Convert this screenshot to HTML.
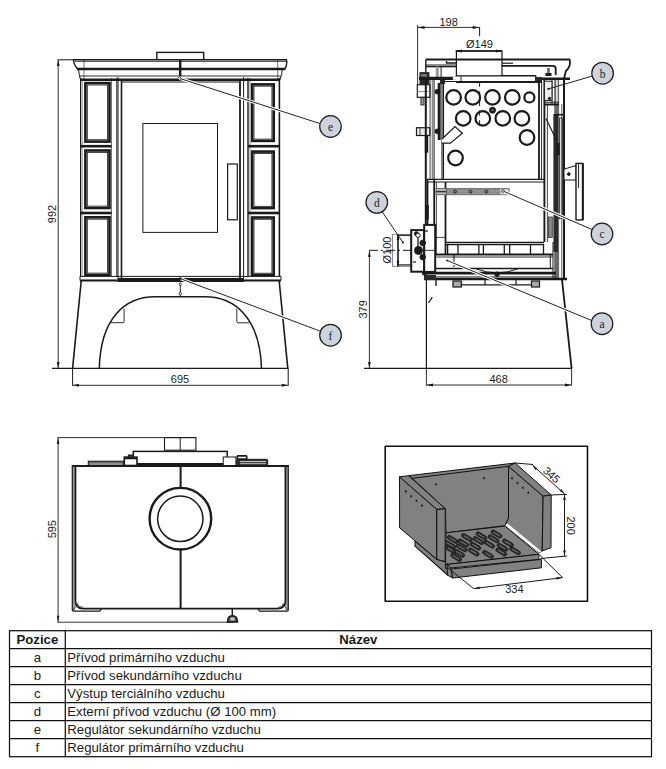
<!DOCTYPE html>
<html><head><meta charset="utf-8">
<style>
html,body{margin:0;padding:0;background:#fff;width:666px;height:769px;overflow:hidden}
svg{position:absolute;left:0;top:0}
text{font-family:"Liberation Sans",sans-serif;fill:#1a1a1a}
</style></head><body>
<svg width="666" height="769" viewBox="0 0 666 769">

<!-- FRONT VIEW -->
<g id="front" stroke="#1a1a1a" fill="none" stroke-width="1">
<!-- flue -->
<rect x="156.8" y="52.4" width="46.9" height="7.3" stroke-width="1.4"/>
<!-- cornice -->
<path d="M73.5 59.8 L286.5 59.8 Q287.5 64 285 69 L77.5 69 Q73.5 64 73.5 59.8 Z" fill="#fff" stroke-width="1.4"/>
<line x1="75" y1="61.4" x2="286" y2="61.4" stroke-width="0.8"/>
<line x1="77" y1="69" x2="285" y2="69" stroke-width="2.4"/>
<path d="M78.5 69 Q79 75 80.5 79.8 M282.3 69 Q282 75 280 79.8" stroke-width="1"/>
<line x1="79.5" y1="76" x2="281" y2="76" stroke-width="0.9"/>
<line x1="180.2" y1="59.8" x2="180.2" y2="76" stroke-width="2.4"/>
<line x1="84" y1="60" x2="84" y2="79" stroke-width="0.6"/>
<line x1="277.7" y1="60" x2="277.7" y2="79" stroke-width="0.6"/>
<!-- tops -->
<line x1="80.5" y1="79.8" x2="280" y2="79.8" stroke-width="2.4"/>
<!-- left pillar -->
<line x1="80.5" y1="78" x2="80.5" y2="276.5" stroke-width="1"/>
<line x1="82" y1="78" x2="82" y2="276.5" stroke-width="0.6"/>
<line x1="111.5" y1="78" x2="111.5" y2="276.5" stroke-width="0.6"/>
<line x1="116.8" y1="78" x2="116.8" y2="276.5" stroke-width="1"/>
<rect x="85.4" y="83.1" width="24.1" height="58.5" stroke-width="2.6"/>
<rect x="87.3" y="85.0" width="20.3" height="54.7" stroke-width="0.8"/>
<line x1="81" y1="146.2" x2="111.5" y2="146.2" stroke-width="2.6"/>
<rect x="85.4" y="150.5" width="24.1" height="57.5" stroke-width="2.6"/>
<rect x="87.3" y="152.4" width="20.3" height="53.7" stroke-width="0.8"/>
<line x1="81" y1="213" x2="111.5" y2="213" stroke-width="2.6"/>
<rect x="85.4" y="217.3" width="24.1" height="57.7" stroke-width="2.6"/>
<rect x="87.3" y="219.2" width="20.3" height="53.9" stroke-width="0.8"/>
<!-- right pillar -->
<line x1="279.4" y1="78" x2="279.4" y2="276.5" stroke-width="1.6"/>
<line x1="248" y1="78" x2="248" y2="276.5" stroke-width="1.4"/>
<line x1="250" y1="78" x2="250" y2="276.5" stroke-width="0.5"/>
<rect x="252.2" y="84.4" width="21.5" height="56.5" stroke-width="2.6"/>
<rect x="254.0" y="86.2" width="17.9" height="52.9" stroke-width="0.8"/>
<line x1="248" y1="146.2" x2="280" y2="146.2" stroke-width="2.6"/>
<rect x="252.2" y="151.6" width="21.5" height="56.5" stroke-width="2.6"/>
<rect x="254.0" y="153.4" width="17.9" height="52.9" stroke-width="0.8"/>
<line x1="248" y1="213" x2="280" y2="213" stroke-width="2.6"/>
<rect x="252.2" y="217.5" width="21.5" height="57.5" stroke-width="2.6"/>
<rect x="254.0" y="219.3" width="17.9" height="53.9" stroke-width="0.8"/>
<!-- door -->
<line x1="121.5" y1="82" x2="240" y2="82" stroke-width="1"/>
<line x1="118" y1="77.2" x2="118" y2="281.5" stroke-width="1"/>
<line x1="121.5" y1="80.5" x2="121.5" y2="279" stroke-width="1.6"/>
<line x1="240" y1="80.5" x2="240" y2="279" stroke-width="1.8"/>
<line x1="243.6" y1="77.2" x2="243.6" y2="281.5" stroke-width="1"/>
<rect x="142.9" y="123.5" width="74.6" height="108.9" stroke-width="1"/>
<rect x="227.6" y="164" width="9.7" height="55.8" stroke-width="1.2"/>
<!-- ledge -->
<path d="M80 276.4 L281 276.4 L281 280.4 L80 280.4 Z" stroke-width="1"/>
<line x1="80" y1="280.4" x2="281" y2="280.4" stroke-width="2"/>
<line x1="118" y1="279" x2="243.6" y2="279" stroke-width="1.8"/>
<line x1="118" y1="281.5" x2="243.6" y2="281.5" stroke-width="1"/>
<!-- base -->
<path d="M81.2 281 L72.6 368.4 M279.2 281 L287.8 368.4" stroke-width="1.6"/>
<line x1="52" y1="368.4" x2="288" y2="368.4" stroke-width="1.1"/>
<path d="M99.3 368.4 C100.5 318 125 296.8 155 296.8 L205 296.8 C235 296.8 260 318 261.5 368.4" stroke-width="1.5"/>
<path d="M124.1 308.6 L124.1 321.5 Q124.1 322.7 122.9 322.7 L110.8 322.7" stroke-width="0.9"/>
<path d="M236.8 309 L236.8 321.6 Q236.8 322.8 238 322.8 L249 322.8" stroke-width="0.9"/>
<line x1="180.3" y1="282.6" x2="180.3" y2="296" stroke-width="1"/>
<circle cx="180.3" cy="284.4" r="1.2" fill="#fff" stroke-width="0.8"/>
<circle cx="180.3" cy="293.6" r="1.3" fill="#fff" stroke-width="0.8"/>
<!-- dim 992 -->
<line x1="58.2" y1="60" x2="58.2" y2="368.4" stroke-width="0.9"/>
<line x1="57.5" y1="59.8" x2="73.5" y2="59.8" stroke-width="1"/>
<path d="M58.2 60 L56.8 66 L59.6 66 Z" fill="#1a1a1a" stroke="none"/>
<path d="M58.2 368.2 L56.8 362 L59.6 362 Z" fill="#1a1a1a" stroke="none"/>
<!-- dim 695 -->
<line x1="72.6" y1="385.3" x2="288.2" y2="385.3" stroke-width="0.9"/>
<line x1="72.6" y1="368" x2="72.6" y2="385.8" stroke-width="1"/>
<line x1="288.2" y1="368" x2="288.2" y2="385.8" stroke-width="1"/>
<path d="M72.8 385.3 L79 383.8 L79 386.8 Z M288 385.3 L281.8 383.8 L281.8 386.8 Z" fill="#1a1a1a" stroke="none"/>
</g>
<text x="180" y="383" font-size="11" text-anchor="middle">695</text>
<text transform="translate(56,214) rotate(-90)" font-size="11" text-anchor="middle">992</text>


<!-- leaders front -->
<g stroke="#fff" stroke-width="3" fill="none">
<line x1="180" y1="78.5" x2="319.8" y2="123.5"/>
<line x1="180.3" y1="278.6" x2="319.8" y2="331"/>
</g>
<g stroke="#222" stroke-width="1" fill="none">
<line x1="180" y1="78.5" x2="319.8" y2="123.5"/>
<line x1="180.3" y1="278.6" x2="319.8" y2="331"/>
</g>
<circle cx="179.5" cy="78.6" r="1.5" fill="#fff" stroke="#222" stroke-width="0.8"/>
<circle cx="180.3" cy="278.6" r="1.3" fill="#222"/>
<g stroke="#1e1e1e" stroke-width="1.25" fill="#cdd3dc">
<circle cx="330.5" cy="126.5" r="10.8"/>
<circle cx="330.5" cy="335.2" r="10.8"/>
</g>
<g font-family="Liberation Serif" font-size="11.5" fill="#2a2e36" text-anchor="middle">
<text x="330.5" y="130.5" style="font-family:'Liberation Serif',serif">e</text>
<text x="330.5" y="339.5" style="font-family:'Liberation Serif',serif">f</text>
</g>


<!-- TOP VIEW -->
<g id="topview" stroke="#1a1a1a" fill="none" stroke-width="1">
<line x1="57.6" y1="437.6" x2="196" y2="437.6" stroke-width="0.9"/>
<line x1="57.6" y1="622.2" x2="233" y2="622.2" stroke-width="0.9"/>
<line x1="58.1" y1="437.6" x2="58.1" y2="622.2" stroke-width="0.9"/>
<path d="M58.1 437.8 L56.8 444 L59.4 444 Z M58.1 622 L56.8 615.8 L59.4 615.8 Z" fill="#1a1a1a" stroke="none"/>
<rect x="164.5" y="437.6" width="31.4" height="12.6" stroke-width="1.1"/>
<line x1="180.2" y1="437.6" x2="180.2" y2="450.2" stroke-width="1"/>
<rect x="133.3" y="451.4" width="93.9" height="13.6" stroke-width="1.5"/>
<line x1="133" y1="464" x2="227" y2="464" stroke-width="2"/>
<rect x="88.3" y="461.2" width="35.5" height="4.3" stroke-width="1" fill="#666"/>
<line x1="89.5" y1="464" x2="122.5" y2="464" stroke="#d0d0d0" stroke-width="0.8"/>
<rect x="124.3" y="457.1" width="12.7" height="8.4" stroke-width="1.6" fill="#fff"/>
<line x1="124.3" y1="458.4" x2="137" y2="458.4" stroke-width="1.8"/>
<rect x="128.4" y="455" width="4.9" height="2.6" stroke-width="1" fill="#333"/>
<rect x="223.2" y="457" width="12.7" height="9" stroke-width="1" fill="#fff"/>
<rect x="236.6" y="459.3" width="31.1" height="5.8" rx="1" stroke-width="1" fill="#333"/>
<line x1="240" y1="461.6" x2="266" y2="461.6" stroke="#e0e0e0" stroke-width="0.9"/>
<line x1="240" y1="463.7" x2="266" y2="463.7" stroke="#e0e0e0" stroke-width="0.8"/>
<rect x="237.2" y="455.9" width="9.6" height="3.2" rx="0.8" stroke-width="1.6" fill="#fff"/>
<rect x="72.6" y="466" width="2.6" height="144.6" fill="#9a9a9a" stroke="none"/>
<rect x="285.6" y="466" width="2.4" height="144.6" fill="#9a9a9a" stroke="none"/>
<line x1="72.3" y1="466" x2="288.3" y2="466" stroke-width="2"/>
<path d="M72.3 465 L72.3 610 Q72.3 611.2 73.5 611.2 L99.8 611.2 L101.5 608.6" stroke-width="1.2"/>
<path d="M288.3 465 L288.3 610 Q288.3 611.2 287.1 611.2 L259.5 611.2 L258 608.6" stroke-width="1.2"/>
<path d="M75.5 466 L75.5 601 Q75.5 608.6 83 608.6 L277.5 608.6 Q285.4 608.6 285.4 601 L285.4 466" stroke-width="1.7"/>
<path d="M73 610 L78.5 603.5 M287.6 610 L282 603.5" stroke-width="0.7"/>
<path d="M76.5 603 Q78 607 83 607.5 M284.4 603 Q283 607 278 607.5" stroke-width="0.7"/>
<line x1="180.6" y1="466" x2="180.6" y2="609" stroke-width="2"/>
<circle cx="180.4" cy="518.7" r="30.8" stroke-width="2.4" fill="#fff"/>
<circle cx="180.3" cy="518.8" r="22.7" stroke-width="1.5"/>
<line x1="232.3" y1="609" x2="232.3" y2="617" stroke-width="1.4"/>
<path d="M227.5 622 Q227.5 616 232.3 615.8 Q237.5 616 237.5 622 Z" stroke-width="1.4" fill="#555"/>
<rect x="230.5" y="617.5" width="4" height="3" fill="#ccc" stroke="none"/>
</g>
<text transform="translate(56,529.2) rotate(-90)" font-size="11" text-anchor="middle">595</text>


<!-- GRATE BOX -->
<g id="grate" stroke="#111" stroke-width="1" stroke-linejoin="round">
<rect x="385.2" y="446.3" width="202.3" height="155" fill="none" stroke-width="1.6"/>
<!-- under base left -->
<path d="M415 540.8 L436.8 559.3 L445.1 561.6 L448.2 568 L448.2 575.5 L415 546.1 Z" fill="#818181" stroke-width="1.1"/>
<!-- back wall -->
<path d="M408.5 475.7 L515.1 463 L508.5 466.3 L508.5 518 L505 525.6 L446 532.8 L445.3 508.8 L412.3 478.3 Z" fill="#818181"/>
<line x1="412.3" y1="478.3" x2="508.5" y2="466.3"/>
<!-- left wall outer face -->
<path d="M399.5 476.8 L436.8 509.4 L436.8 559.3 L399.6 527.8 Z" fill="#818181"/>
<path d="M399.5 476.8 L408.5 475.7 L445.3 508.8 L436.8 509.4 Z" fill="#818181"/>
<path d="M436.8 509.4 L445.3 508.8 L445.1 561.6 L436.8 559.3 Z" fill="#818181"/>
<!-- right wall -->
<path d="M508.5 466.3 L543.1 496.2 L542.2 551 L538.9 552.6 L505 525.6 L508.5 518 Z" fill="#818181"/>
<path d="M515.1 463 L551.2 495 L543.1 496.2 L508.5 466.3 Z" fill="#818181"/>
<path d="M543.1 496.2 L551.2 495 L551 547.6 L542.2 551 Z" fill="#818181"/>
<path d="M505 525.6 L538.9 552.6 L541.5 551.5 L507.5 523.5 Z" fill="#fff" stroke="none"/>
<!-- grate -->
<path d="M446 532.8 L505 526.1 L538.9 554.3 L445.4 564.6 Z" fill="#818181"/>
<path d="M445.4 564.6 L538.9 554.3 L538.9 559.4 L445.4 568.5 Z" fill="#818181"/>
<!-- ash tray -->
<path d="M451 569 L541.4 559.4 L541.4 567.8 L452.6 578 Z" fill="#818181"/>
<path d="M447.3 563.5 L451 569 L452.6 578 L447.3 575 Z" fill="#818181"/>
</g>
<defs><clipPath id="gclip"><path d="M446 533 L505 526 L539 554.5 L446 564.5 Z"/></clipPath></defs><g clip-path="url(#gclip)" fill="#2e2e2e" stroke="#151515" stroke-width="0.7"><g transform="translate(452.6,539.4) rotate(31)"><rect x="-6" y="-2" width="12" height="4" rx="2"/><line x1="-3.5" y1="0" x2="3.5" y2="0" stroke="#707070" stroke-width="1.1"/></g><g transform="translate(467.0,537.6) rotate(31)"><rect x="-6" y="-2" width="12" height="4" rx="2"/><line x1="-3.5" y1="0" x2="3.5" y2="0" stroke="#707070" stroke-width="1.1"/></g><g transform="translate(481.4,535.8) rotate(31)"><rect x="-6" y="-2" width="12" height="4" rx="2"/><line x1="-3.5" y1="0" x2="3.5" y2="0" stroke="#707070" stroke-width="1.1"/></g><g transform="translate(496.5,534.0) rotate(31)"><rect x="-6" y="-2" width="12" height="4" rx="2"/><line x1="-3.5" y1="0" x2="3.5" y2="0" stroke="#707070" stroke-width="1.1"/></g><g transform="translate(463.4,543.0) rotate(31)"><rect x="-6" y="-2" width="12" height="4" rx="2"/><line x1="-3.5" y1="0" x2="3.5" y2="0" stroke="#707070" stroke-width="1.1"/></g><g transform="translate(478.4,540.6) rotate(31)"><rect x="-6" y="-2" width="12" height="4" rx="2"/><line x1="-3.5" y1="0" x2="3.5" y2="0" stroke="#707070" stroke-width="1.1"/></g><g transform="translate(493.5,538.8) rotate(31)"><rect x="-6" y="-2" width="12" height="4" rx="2"/><line x1="-3.5" y1="0" x2="3.5" y2="0" stroke="#707070" stroke-width="1.1"/></g><g transform="translate(507.9,543.0) rotate(31)"><rect x="-6" y="-2" width="12" height="4" rx="2"/><line x1="-3.5" y1="0" x2="3.5" y2="0" stroke="#707070" stroke-width="1.1"/></g><g transform="translate(450.2,544.8) rotate(31)"><rect x="-6" y="-2" width="12" height="4" rx="2"/><line x1="-3.5" y1="0" x2="3.5" y2="0" stroke="#707070" stroke-width="1.1"/></g><g transform="translate(461.6,547.8) rotate(31)"><rect x="-6" y="-2" width="12" height="4" rx="2"/><line x1="-3.5" y1="0" x2="3.5" y2="0" stroke="#707070" stroke-width="1.1"/></g><g transform="translate(475.4,546.0) rotate(31)"><rect x="-6" y="-2" width="12" height="4" rx="2"/><line x1="-3.5" y1="0" x2="3.5" y2="0" stroke="#707070" stroke-width="1.1"/></g><g transform="translate(489.2,544.2) rotate(31)"><rect x="-6" y="-2" width="12" height="4" rx="2"/><line x1="-3.5" y1="0" x2="3.5" y2="0" stroke="#707070" stroke-width="1.1"/></g><g transform="translate(502.5,547.2) rotate(31)"><rect x="-6" y="-2" width="12" height="4" rx="2"/><line x1="-3.5" y1="0" x2="3.5" y2="0" stroke="#707070" stroke-width="1.1"/></g><g transform="translate(515.1,550.8) rotate(31)"><rect x="-6" y="-2" width="12" height="4" rx="2"/><line x1="-3.5" y1="0" x2="3.5" y2="0" stroke="#707070" stroke-width="1.1"/></g><g transform="translate(450.8,549.6) rotate(31)"><rect x="-6" y="-2" width="12" height="4" rx="2"/><line x1="-3.5" y1="0" x2="3.5" y2="0" stroke="#707070" stroke-width="1.1"/></g><g transform="translate(459.2,553.2) rotate(31)"><rect x="-6" y="-2" width="12" height="4" rx="2"/><line x1="-3.5" y1="0" x2="3.5" y2="0" stroke="#707070" stroke-width="1.1"/></g><g transform="translate(473.6,552.0) rotate(31)"><rect x="-6" y="-2" width="12" height="4" rx="2"/><line x1="-3.5" y1="0" x2="3.5" y2="0" stroke="#707070" stroke-width="1.1"/></g><g transform="translate(488.0,554.4) rotate(31)"><rect x="-6" y="-2" width="12" height="4" rx="2"/><line x1="-3.5" y1="0" x2="3.5" y2="0" stroke="#707070" stroke-width="1.1"/></g><g transform="translate(456.2,557.4) rotate(31)"><rect x="-6" y="-2" width="12" height="4" rx="2"/><line x1="-3.5" y1="0" x2="3.5" y2="0" stroke="#707070" stroke-width="1.1"/></g><g transform="translate(501.3,552.0) rotate(31)"><rect x="-6" y="-2" width="12" height="4" rx="2"/><line x1="-3.5" y1="0" x2="3.5" y2="0" stroke="#707070" stroke-width="1.1"/></g></g>
<g fill="#222">
<ellipse cx="405.8" cy="491.4" rx="0.9" ry="1.3"/><ellipse cx="411.1" cy="496.3" rx="0.9" ry="1.3"/>
<ellipse cx="416.5" cy="500.8" rx="0.9" ry="1.3"/><ellipse cx="422" cy="505.6" rx="0.9" ry="1.3"/>
<circle cx="435.9" cy="484.3" r="1.1"/><circle cx="484" cy="478.2" r="1.1"/>
<ellipse cx="512.1" cy="478.2" rx="0.9" ry="1.3"/><ellipse cx="517.5" cy="482.9" rx="0.9" ry="1.3"/>
<ellipse cx="522.9" cy="487.7" rx="0.9" ry="1.3"/><ellipse cx="528.3" cy="492.8" rx="0.9" ry="1.3"/>
</g>
<g stroke="#1a1a1a" stroke-width="1" fill="none">
<line x1="515.1" y1="463" x2="533" y2="464.5"/>
<line x1="551.2" y1="495" x2="567" y2="494.4"/>
<line x1="532.3" y1="465" x2="564.7" y2="494"/>
<line x1="540.5" y1="558.5" x2="567" y2="556"/>
<line x1="564.5" y1="494.4" x2="564.5" y2="556"/>
<line x1="448" y1="568" x2="473.6" y2="588.6"/>
<line x1="538.9" y1="554.3" x2="562.5" y2="577.6"/>
<line x1="473.6" y1="588.6" x2="562.5" y2="577.6"/>
</g>
<path d="M564.5 494.6 L563.1 500 L565.9 500 Z M564.5 555.8 L563.1 550.4 L565.9 550.4 Z" fill="#222"/>
<path d="M473.8 588.6 L479.5 586.5 L479.8 589.3 Z M562.3 577.6 L556.4 576.9 L556.7 579.7 Z" fill="#222"/>
<path d="M532.5 465.2 L535.6 470.2 L537.4 468.2 Z M564.5 493.8 L559.5 491 L561.4 488.9 Z" fill="#222"/>
<text transform="translate(549,477.8) rotate(41.8)" font-size="11" text-anchor="middle">345</text>
<text transform="translate(567,525.6) rotate(90)" font-size="11" text-anchor="middle">200</text>
<text x="514.4" y="593" font-size="11" text-anchor="middle">334</text>


<!-- SIDE VIEW -->
<defs><pattern id="hatch" width="2" height="2" patternUnits="userSpaceOnUse" patternTransform="rotate(45)"><rect width="2" height="2" fill="#808080"/><rect width="1" height="1" fill="#b8b8b8"/></pattern></defs>
<g id="side" stroke="#1a1a1a" fill="none" stroke-width="1">
<!-- dim 198 -->
<line x1="417.6" y1="27.4" x2="479.6" y2="27.4" stroke-width="0.9"/>
<line x1="417.6" y1="25" x2="417.6" y2="84.4" stroke-width="0.9"/>
<path d="M417.8 27.4 L424.5 25.9 L424.5 28.9 Z M479.4 27.4 L472.7 25.9 L472.7 28.9 Z" fill="#1a1a1a" stroke="none"/>
<line x1="479.6" y1="27" x2="479.6" y2="36.3" stroke-width="1"/>
<line x1="479.6" y1="53" x2="479.6" y2="125" stroke-width="1" stroke-dasharray="5 4.6"/>
<!-- flue -->
<rect x="456.4" y="51" width="45.6" height="25" stroke-width="1.2" fill="#fff"/>
<line x1="455.8" y1="51" x2="502" y2="51" stroke-width="1.6"/>
<path d="M455.8 51 L462 49.4 L462 52.6 Z M502 51 L495.8 49.4 L495.8 52.6 Z" fill="#1a1a1a" stroke="none"/>
<!-- top plate -->
<path d="M425.8 59.5 L569.5 59.5 Q570.5 62 569.5 66 L567.7 69.2 L565.9 71 L564 78.8" stroke-width="1.8"/>
<line x1="425.8" y1="59.5" x2="425.8" y2="77" stroke-width="1.4"/>
<line x1="426" y1="64.9" x2="456.4" y2="64.9" stroke-width="0.8"/>
<line x1="426" y1="66.5" x2="456.4" y2="66.5" stroke-width="1.6"/>
<line x1="437.3" y1="66.5" x2="437.3" y2="77" stroke-width="3" stroke="#999"/>
<line x1="441.1" y1="66.5" x2="441.1" y2="77" stroke-width="1"/>
<path d="M446.5 61 L446.5 63 L456.4 63" stroke-width="1.4"/>
<line x1="502" y1="63.2" x2="513" y2="63.2" stroke-width="1.2"/>
<path d="M501.6 65.8 L553 65.8 Q555.7 65.8 555.7 68.5 L555.7 75" stroke-width="1.8"/>
<line x1="548.5" y1="68" x2="548.5" y2="74" stroke-width="2.6" stroke="#666"/>
<rect x="545.5" y="73" width="6" height="3" fill="#1a1a1a" stroke="none"/>
<rect x="419.5" y="72.1" width="9.9" height="12.6" fill="#2a2a2a" stroke="none"/>
<rect x="421" y="74" width="6" height="4" fill="#777" stroke="none"/>
<line x1="419" y1="78.4" x2="456.4" y2="78.4" stroke-width="3.4"/>
<rect x="452.8" y="77" width="8.2" height="2.8" fill="#fff" stroke="none"/>
<line x1="501.6" y1="75.8" x2="535.8" y2="75.8" stroke-width="1.8"/>
<path d="M456.4 76 L535.8 76 L535.8 82.4 L456.4 82.4" stroke-width="1.2" fill="#fff"/>
<line x1="456.4" y1="82" x2="540" y2="82" stroke-width="2"/>
<line x1="461" y1="76.4" x2="461" y2="82" stroke-width="1"/>
<line x1="535" y1="78.8" x2="570" y2="78.8" stroke-width="2.4"/>
<rect x="440" y="80" width="5" height="4" fill="#2a2a2a" stroke="none"/>
<rect x="535" y="77" width="7" height="6" fill="#2a2a2a" stroke="none"/>
<!-- left bracket -->
<rect x="417.3" y="84.7" width="12.6" height="12.6" stroke-width="1.2" fill="#fff"/>
<line x1="417.3" y1="91.5" x2="429.9" y2="91.5" stroke-width="1.2" stroke="#999"/>
<rect x="420.9" y="97.3" width="3.1" height="7.7" stroke-width="0.8" fill="#999"/>
<rect x="416.5" y="127.7" width="13.3" height="7.8" stroke-width="1.2" fill="#e8e8e8"/>
<line x1="420" y1="127.7" x2="420" y2="135.5" stroke-width="0.8"/>
<!-- left walls -->
<line x1="425.8" y1="80" x2="425.8" y2="225" stroke-width="2"/>
<line x1="432.7" y1="80" x2="432.7" y2="180" stroke-width="2" stroke="#8a8a8a"/>
<line x1="430.1" y1="80" x2="430.1" y2="180" stroke-width="0.8"/>
<line x1="434.3" y1="80" x2="434.3" y2="180" stroke-width="0.7"/>
<line x1="439.2" y1="83" x2="439.2" y2="140" stroke-width="3"/>
<line x1="441.8" y1="80" x2="441.8" y2="180" stroke-width="0.8"/>
<line x1="443.3" y1="80" x2="443.3" y2="180" stroke-width="1.5"/>
<line x1="426.5" y1="135.8" x2="426.5" y2="152.7" stroke-width="3.4"/>
<line x1="427" y1="205" x2="427" y2="219.5" stroke-width="3.6"/>
<circle cx="437.3" cy="91.7" r="2.3" fill="#1a1a1a"/>
<circle cx="437.3" cy="131.3" r="2.3" fill="#1a1a1a"/>
<line x1="427.6" y1="180" x2="427.6" y2="225" stroke-width="1.6"/>
<line x1="434.2" y1="180" x2="434.2" y2="272" stroke-width="1.8"/>
<line x1="436.4" y1="182" x2="436.4" y2="254.5" stroke-width="0.8"/>
<line x1="445.5" y1="182" x2="445.5" y2="254.5" stroke-width="1.8"/>
<line x1="435" y1="237.4" x2="445.5" y2="237.4" stroke-width="0.8"/>
<!-- firebox top line -->
<line x1="443" y1="81.5" x2="539" y2="81.5" stroke-width="1"/>
<!-- right walls -->
<line x1="539" y1="80" x2="539" y2="179" stroke-width="1.8"/>
<line x1="541.6" y1="80" x2="541.6" y2="179" stroke-width="0.9"/>
<line x1="544.4" y1="80" x2="544.4" y2="242" stroke-width="1.9"/>
<line x1="547.4" y1="104" x2="547.4" y2="242" stroke-width="0.8"/>
<line x1="552" y1="80" x2="552" y2="104" stroke-width="0.9"/>
<rect x="554.2" y="80" width="4.9" height="198" fill="#6a6a6a" stroke="none"/>
<rect x="553.4" y="114" width="4.6" height="138" fill="#2a2a2a" stroke="none"/>
<rect x="559.4" y="118" width="3" height="100.7" fill="#d8d8d8" stroke="#222" stroke-width="0.8"/>
<line x1="556.9" y1="80" x2="556.9" y2="104" stroke-width="1.4" stroke="#fff"/>
<line x1="564" y1="79" x2="564" y2="279" stroke-width="2"/>
<line x1="561.8" y1="104" x2="561.8" y2="278" stroke-width="0.7"/>
<rect x="544.4" y="81.2" width="7.6" height="19.2" stroke-width="1" fill="#eee"/>
<circle cx="549.5" cy="98.5" r="1.2" fill="#1a1a1a"/>
<line x1="544.4" y1="102.2" x2="559" y2="102.2" stroke-width="1"/>
<line x1="544.4" y1="104.5" x2="559" y2="104.5" stroke-width="2"/>
<line x1="554" y1="114.7" x2="564" y2="114.7" stroke-width="1.6"/>
<line x1="546" y1="118.4" x2="556.4" y2="140" stroke-width="1.2"/>
<line x1="558" y1="143" x2="558" y2="155" stroke-width="3.2"/>
<rect x="548.4" y="217" width="3.9" height="20.4" fill="#888" stroke="#333" stroke-width="0.8"/>
<!-- handle -->
<path d="M564 169.2 L576 165.5 L576 180 L564 180 Z" stroke-width="1" fill="#fff"/>
<circle cx="568.8" cy="174.1" r="1.4" fill="#1a1a1a"/>
<rect x="576" y="163.4" width="6.8" height="56.5" stroke-width="1.4" fill="#fff"/>
<line x1="582.8" y1="163.4" x2="582.8" y2="219.9" stroke-width="2"/>
<line x1="578.6" y1="164" x2="578.6" y2="188" stroke-width="1"/>
<!-- circles -->
<g stroke-width="2.2">
<circle cx="453.6" cy="97.4" r="7.3"/>
<circle cx="472.8" cy="97.4" r="7.3"/>
<circle cx="492.5" cy="97.4" r="7.3"/>
<circle cx="512.3" cy="97.4" r="7.3"/>
<circle cx="529.4" cy="97.4" r="5"/>
<circle cx="463.2" cy="118.4" r="7.3"/>
<circle cx="482.8" cy="118.4" r="7.3"/>
<circle cx="502.8" cy="118.4" r="7.3"/>
<circle cx="521.9" cy="118.4" r="7.3"/>
<circle cx="527" cy="137.5" r="7.3"/>
<circle cx="455.5" cy="158" r="7.3"/>
</g>
<circle cx="492.5" cy="110.2" r="3" fill="#1a1a1a"/>
<circle cx="492.5" cy="110.2" r="1" fill="#888" stroke="none"/>
<path d="M442 139 L455 126.6 L462.3 133.3 L450.4 143.2 L442 143.2" stroke-width="1.2" fill="#fff"/>
<!-- middle plate -->
<line x1="427" y1="179.4" x2="544" y2="179.4" stroke-width="1.2"/>
<line x1="427" y1="182" x2="544" y2="182" stroke-width="1.2"/>
<rect x="446.4" y="188.5" width="62.7" height="6.3" fill="url(#hatch)" stroke="#666" stroke-width="0.8"/>
<rect x="500" y="189" width="8.6" height="5.3" fill="#d0d0d0" stroke="none"/>
<rect x="436" y="188.5" width="10.4" height="6.3" fill="#bbb" stroke="#555" stroke-width="0.8"/>
<line x1="436" y1="191.6" x2="446.4" y2="191.6" stroke="#333" stroke-width="1.4"/>
<circle cx="455" cy="191.6" r="1.4" fill="#888" stroke="#1a1a1a" stroke-width="0.9"/>
<circle cx="470.6" cy="191.6" r="1.4" fill="#888" stroke="#1a1a1a" stroke-width="0.9"/>
<circle cx="486.3" cy="191.6" r="1.4" fill="#888" stroke="#1a1a1a" stroke-width="0.9"/>
<!-- grate -->
<line x1="445.5" y1="242.4" x2="544" y2="242.4" stroke-width="1.5"/>
<line x1="445.5" y1="244.7" x2="544" y2="244.7" stroke-width="1.2"/>
<line x1="435" y1="254.5" x2="553" y2="254.5" stroke-width="1.8"/>
<g stroke-width="1.3">
<line x1="447.6" y1="244.5" x2="447.6" y2="254.2"/>
<line x1="458" y1="244.5" x2="458" y2="254.2"/>
<line x1="478.9" y1="244.5" x2="478.9" y2="254.2"/>
<line x1="483.4" y1="244.5" x2="483.4" y2="254.2"/>
<line x1="504.3" y1="244.5" x2="504.3" y2="254.2"/>
<line x1="509.7" y1="244.5" x2="509.7" y2="254.2"/>
<line x1="530.5" y1="244.5" x2="530.5" y2="254.2"/>
<line x1="543.5" y1="244.5" x2="543.5" y2="254.2"/>
</g>
<line x1="436.4" y1="257" x2="553" y2="257" stroke-width="0.9"/>
<line x1="550.3" y1="255" x2="550.3" y2="268" stroke-width="1"/>
<line x1="434" y1="268.5" x2="553" y2="268.5" stroke-width="1.4"/>
<line x1="425.6" y1="273.2" x2="556" y2="273.2" stroke-width="2.8"/>
<line x1="430" y1="276.9" x2="556" y2="276.9" stroke-width="0.9"/>
<line x1="424" y1="279" x2="567" y2="279" stroke-width="2.6"/>
<line x1="452.5" y1="284.8" x2="539.6" y2="284.8" stroke-width="1.2"/>
<rect x="453" y="281" width="8.3" height="6" stroke-width="1.2" fill="#aaa"/>
<rect x="531.5" y="281" width="8" height="6" stroke-width="1.2" fill="#aaa"/>
<line x1="436" y1="280" x2="436" y2="286" stroke-width="1.4"/>
<line x1="485" y1="280" x2="485" y2="285" stroke-width="1.2"/>
<line x1="516" y1="280" x2="516" y2="285" stroke-width="1.2"/>
<path d="M476 268.8 Q497 277 518 268.8" stroke-width="1"/>
<circle cx="497" cy="274.2" r="2.3" fill="#1a1a1a"/>
<circle cx="431.5" cy="271.2" r="2.4" fill="#1a1a1a"/>
<circle cx="424.5" cy="273" r="2.2" fill="#1a1a1a"/>
<rect x="424" y="275" width="12" height="5" fill="#2a2a2a" stroke="none"/>
<line x1="454" y1="255" x2="454" y2="267" stroke-width="1.1"/>
<line x1="553" y1="242" x2="553" y2="279" stroke-width="1"/>
<!-- air inlet -->
<rect x="392.5" y="234.4" width="18.7" height="32" stroke-width="1" stroke="#888" fill="#fff"/>
<line x1="397" y1="235.3" x2="411.2" y2="235.3" stroke-width="1.2"/>
<line x1="397" y1="264.9" x2="411.2" y2="264.9" stroke-width="1.2"/>
<line x1="398" y1="234.4" x2="398" y2="266.4" stroke-width="1.6"/>
<path d="M398 234.6 L396.6 240 L399.4 240 Z M398 266.2 L396.6 260.8 L399.4 260.8 Z" fill="#1a1a1a" stroke="none"/>
<line x1="369" y1="250.3" x2="411" y2="250.3" stroke-width="1" stroke-dasharray="9 3 2 3"/>
<rect x="411.2" y="230.1" width="13" height="41.6" stroke-width="2" fill="#fff"/>
<rect x="424.2" y="224.9" width="11" height="47" stroke-width="2" fill="#fff"/>
<line x1="424.2" y1="250.4" x2="435.2" y2="250.4" stroke-width="0.9"/>
<line x1="425" y1="231" x2="428" y2="231" stroke-width="1.2"/>
<line x1="413" y1="262" x2="416" y2="262" stroke-width="1.2"/>
<circle cx="418.5" cy="250.4" r="4" fill="#1a1a1a"/>
<circle cx="422.7" cy="243" r="2.8" fill="#1a1a1a"/>
<circle cx="422.7" cy="257.1" r="2.8" fill="#1a1a1a"/>
<circle cx="416.4" cy="233.7" r="2" fill="#1a1a1a"/>
<circle cx="418" cy="235.3" r="2.2" stroke-width="1" fill="#fff"/>
<line x1="418" y1="237.5" x2="418" y2="247" stroke-width="1.3"/>
<!-- base -->
<line x1="426.4" y1="279" x2="426.4" y2="368.4" stroke-width="1.2"/>
<line x1="562" y1="279.5" x2="571.6" y2="368.4" stroke-width="1.8"/>
<line x1="428.4" y1="303" x2="432.3" y2="297.2" stroke-width="1.2"/>
<line x1="364" y1="368.4" x2="571.6" y2="368.4" stroke-width="1.1"/>
<!-- dim 379 -->
<line x1="369.4" y1="250.8" x2="369.4" y2="368.4" stroke-width="0.9"/>
<path d="M369.4 251 L368 257 L370.8 257 Z M369.4 368.2 L368 362 L370.8 362 Z" fill="#1a1a1a" stroke="none"/>
<!-- dim 468 -->
<line x1="426.4" y1="385" x2="571.6" y2="385" stroke-width="0.9"/>
<line x1="426.4" y1="368" x2="426.4" y2="385.5" stroke-width="0.9"/>
<line x1="571.6" y1="368" x2="571.6" y2="385.5" stroke-width="0.9"/>
<path d="M426.6 385 L433 383.5 L433 386.5 Z M571.4 385 L565 383.5 L565 386.5 Z" fill="#1a1a1a" stroke="none"/>
</g>
<text x="448.6" y="25.8" font-size="11" text-anchor="middle">198</text>
<text x="479.5" y="48" font-size="11" text-anchor="middle">Ø149</text>
<text x="498.6" y="383" font-size="11" text-anchor="middle">468</text>
<text transform="translate(367.2,309.4) rotate(-90)" font-size="11" text-anchor="middle">379</text>
<text transform="translate(390.8,250) rotate(-90)" font-size="11" text-anchor="middle">Ø100</text>
<!-- leaders side -->
<g stroke="#fff" stroke-width="3" fill="none">
<line x1="503" y1="191" x2="592" y2="229.5"/>
<line x1="447.2" y1="260.5" x2="591.6" y2="320.5"/>
</g>
<g stroke="#222" stroke-width="1" fill="none">
<line x1="548.4" y1="88.9" x2="591.8" y2="76.2"/>
<line x1="503" y1="191" x2="592" y2="229.5"/>
<line x1="447.2" y1="260.5" x2="591.6" y2="320.5"/>
<line x1="403" y1="242.5" x2="382" y2="211.5"/>
</g>
<circle cx="548.4" cy="88.9" r="1.1" fill="#222"/>
<circle cx="503" cy="191" r="1.3" fill="#fff" stroke="#222" stroke-width="0.8"/>
<circle cx="447.2" cy="260.5" r="1.1" fill="#222"/>
<circle cx="403" cy="242.5" r="1.1" fill="#222"/>
<g stroke="#1e1e1e" stroke-width="1.25" fill="#cdd3dc">
<circle cx="602.6" cy="73.2" r="10.8"/>
<circle cx="602" cy="234" r="10.8"/>
<circle cx="602" cy="323.7" r="10.8"/>
<circle cx="376.8" cy="202.3" r="10.8"/>
</g>
<g font-size="11.5" fill="#2a2e36" text-anchor="middle" style="font-family:'Liberation Serif',serif">
<text x="602.6" y="77.5" style="font-family:'Liberation Serif',serif">b</text>
<text x="602" y="238" style="font-family:'Liberation Serif',serif">c</text>
<text x="602" y="327.7" style="font-family:'Liberation Serif',serif">a</text>
<text x="376.8" y="206.5" style="font-family:'Liberation Serif',serif">d</text>
</g>
<!-- TABLE -->
<g id="table" stroke="#111" stroke-width="1.25" fill="none">
<rect x="9.5" y="630.7" width="642" height="126"/>
<line x1="65.3" y1="630.7" x2="65.3" y2="756.7"/>
<line x1="9.5" y1="648.7" x2="651.5" y2="648.7"/>
<line x1="9.5" y1="666.7" x2="651.5" y2="666.7"/>
<line x1="9.5" y1="684.7" x2="651.5" y2="684.7"/>
<line x1="9.5" y1="702.7" x2="651.5" y2="702.7"/>
<line x1="9.5" y1="720.7" x2="651.5" y2="720.7"/>
<line x1="9.5" y1="738.7" x2="651.5" y2="738.7"/>
</g>
<g font-size="13.2">
<text x="37.4" y="644" text-anchor="middle" font-weight="bold">Pozice</text>
<text x="358.4" y="644" text-anchor="middle" font-weight="bold">Název</text>
<text x="37.4" y="662" text-anchor="middle">a</text>
<text x="37.4" y="680" text-anchor="middle">b</text>
<text x="37.4" y="698" text-anchor="middle">c</text>
<text x="37.4" y="716" text-anchor="middle">d</text>
<text x="37.4" y="734" text-anchor="middle">e</text>
<text x="37.4" y="752" text-anchor="middle">f</text>
<text x="67.3" y="662">Přívod primárního vzduchu</text>
<text x="67.3" y="680">Přívod sekundárního vzduchu</text>
<text x="67.3" y="698">Výstup terciálního vzduchu</text>
<text x="67.3" y="716">Externí přívod vzduchu (Ø 100 mm)</text>
<text x="67.3" y="734">Regulátor sekundárního vzduchu</text>
<text x="67.3" y="752">Regulátor primárního vzduchu</text>
</g>
</svg>
</body></html>
